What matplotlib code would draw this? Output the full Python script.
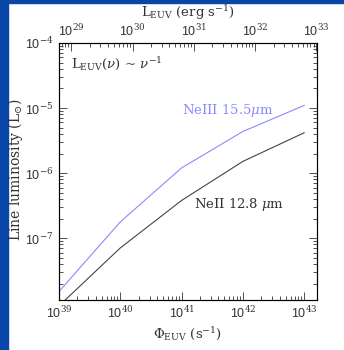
import numpy as np
import matplotlib
matplotlib.use("Agg")
import matplotlib.pyplot as plt
from matplotlib.patches import Rectangle
from matplotlib.ticker import FuncFormatter, LogLocator

plt.rcParams['mathtext.fontset'] = 'dejavuserif'

# log10 of ionizing photon rate and line luminosity
log_phi = [39, 40, 41, 42, 43]
log_neiii = [-7.82, -6.75, -5.92, -5.36, -4.96]
log_neii = [-8.04, -7.15, -6.42, -5.82, -5.38]
LOG_EUV_OFFSET = -10.2          # log L_EUV - log Phi_EUV (top axis)

INK = '#333333'
BLUE = '#8a8aff'
SERIF = 'DejaVu Serif'
SANS = 'Liberation Sans'

fig = plt.figure(figsize=(3.44, 3.50), dpi=100)
fig.patches.append(Rectangle((0, 0), 8 / 344, 1, transform=fig.transFigure,
                             color='#0846a8', zorder=-5))
fig.patches.append(Rectangle((0, 1 - 3 / 350), 1, 3 / 350, transform=fig.transFigure,
                             color='#0846a8', zorder=-5))

ax = fig.add_axes([59 / 344, 50 / 350, 258 / 344, 257 / 350])
x = 10.0 ** np.array(log_phi)
ax.plot(x, 10.0 ** np.array(log_neiii), color=BLUE, lw=0.8)
ax.plot(x, 10.0 ** np.array(log_neii), color='#444444', lw=0.8)
ax.set_xscale('log')
ax.set_yscale('log')
xlim = (1e39, 10 ** 43.21)
ax.set_xlim(*xlim)
ax.set_ylim(10 ** -7.95, 1e-4)


def pow_fmt(v, pos):
    return r'10$^{%d}$' % int(round(np.log10(v)))


ax.tick_params(which='both', direction='in', colors=INK, top=False, right=True,
               labelsize=9, width=0.6, labelfontfamily=SANS)
ax.tick_params(which='major', length=6, pad=4)
ax.tick_params(which='minor', length=3)
ax.xaxis.set_major_formatter(FuncFormatter(pow_fmt))
ax.yaxis.set_major_formatter(FuncFormatter(pow_fmt))
ax.yaxis.set_major_locator(LogLocator(base=10, numticks=10))
ax.yaxis.set_minor_locator(LogLocator(base=10, subs=np.arange(2, 10), numticks=10))
for s in ax.spines.values():
    s.set_color(INK)
    s.set_linewidth(0.8)

top = ax.twiny()
top.set_xscale('log')
top.set_xlim(xlim[0] * 10 ** LOG_EUV_OFFSET, xlim[1] * 10 ** LOG_EUV_OFFSET)
top.tick_params(which='both', direction='in', colors=INK, labelsize=9, width=0.6,
                labelfontfamily=SANS)
top.tick_params(which='major', length=6, pad=3)
top.tick_params(which='minor', length=3)
top.xaxis.set_major_formatter(FuncFormatter(pow_fmt))

ax.set_xlabel(r'$\Phi_{\rm EUV}$ (s$^{-1}$)', family=SERIF, fontsize=9.5, color=INK,
              labelpad=3)
fig.text(188 / 344, 1 - 13 / 350, r'L$_{\rm EUV}$ (erg s$^{-1}$)', family=SERIF,
         fontsize=9.5, color=INK, ha='center', va='center')
fig.text(16 / 344, 1 - 170 / 350, r'Line luminosity (L$_{\odot}$)', family=SERIF,
         fontsize=10, color=INK, rotation=90, ha='center', va='center')

ax.text(10 ** 39.2, 10 ** -4.33, r'L$_{\rm EUV}$($\nu$) ~ $\nu^{-1}$', family=SERIF,
        fontsize=9.5, color=INK, va='center', ha='left')
ax.text(10 ** 41.0, 10 ** -5.03, r'NeIII 15.5$\mu$m', family=SERIF, fontsize=9.5,
        color=BLUE, va='center', ha='left')
ax.text(10 ** 41.2, 10 ** -6.48, r'NeII 12.8 $\mu$m', family=SERIF, fontsize=9.5,
        color=INK, va='center', ha='left')

fig.savefig('out.png', dpi=100, facecolor='white')
